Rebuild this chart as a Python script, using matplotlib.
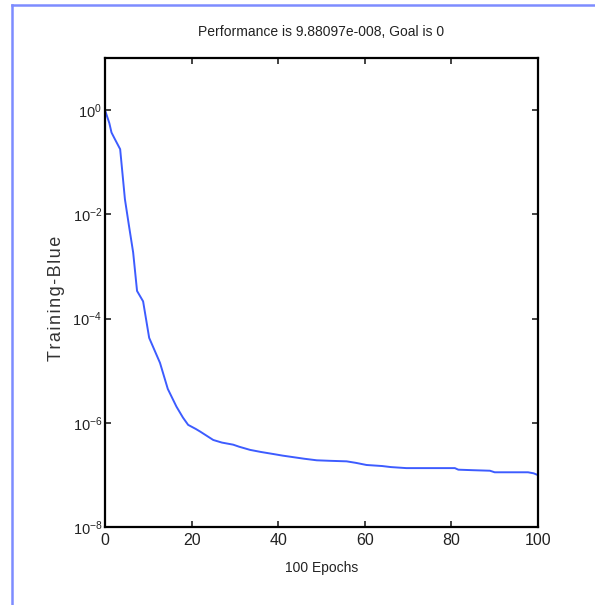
import matplotlib
matplotlib.use('Agg')
import matplotlib.pyplot as plt
from matplotlib.lines import Line2D

plt.rcParams['font.family'] = ['Liberation Sans', 'DejaVu Sans']
plt.rcParams['mathtext.fontset'] = 'custom'
plt.rcParams['mathtext.rm'] = 'Liberation Sans'
plt.rcParams['mathtext.default'] = 'regular'

# training record: epoch and log10 of the performance
epochs = [0, 1, 1.5, 2.3, 3.5, 4.6, 5.5, 6.5, 7.4, 8.8, 10.2, 12.7, 14.5, 16.5,
          18, 19.2, 21, 22, 25, 27, 29.6, 31, 33.5, 36, 38.9, 41, 43.5, 46,
          48.9, 52, 55.8, 58, 60.4, 64, 66, 69.6, 75, 80.8, 81.6, 85, 88.9,
          90, 95, 97.7, 99, 100]
log_perf = [0, -0.25, -0.43, -0.56, -0.75, -1.71, -2.2, -2.73, -3.47, -3.67,
            -4.37, -4.85, -5.35, -5.69, -5.9, -6.04, -6.12, -6.17, -6.33,
            -6.38, -6.42, -6.46, -6.52, -6.56, -6.60, -6.63, -6.66, -6.69,
            -6.72, -6.73, -6.74, -6.77, -6.81, -6.83, -6.85, -6.87, -6.87,
            -6.87, -6.90, -6.91, -6.92, -6.95, -6.95, -6.95, -6.97, -7.005]
perf = [10 ** v for v in log_perf]

x_ticks = [0, 20, 40, 60, 80, 100]
y_ticks = [1e-8, 1e-6, 1e-4, 1e-2, 1e0]

fig = plt.figure(figsize=(5.95, 6.05), dpi=100)

# blue frame around the figure
frame_col = '#7d8cff'
fig.add_artist(Line2D([12 / 595, 12 / 595], [0, 1 - 5 / 605],
                      transform=fig.transFigure, color=frame_col, lw=1.8))
fig.add_artist(Line2D([12 / 595, 1], [1 - 5 / 605, 1 - 5 / 605],
                      transform=fig.transFigure, color=frame_col, lw=1.8))

ax = fig.add_axes([105 / 595, 78 / 605, 433 / 595, 469 / 605])
ax.semilogy(epochs, perf, color='#3d5cff', lw=1.4)

ax.set_xlim(0, 100)
ax.set_ylim(1e-8, 1e1)
ax.set_xticks(x_ticks)
ax.set_yticks(y_ticks)
ax.minorticks_off()
ax.tick_params(direction='in', length=4, width=1.2, top=True, right=True,
               labelsize=11.5, pad=4, colors='#222222')
ax.tick_params(axis='y', labelsize=10.5, pad=2)
for s in ax.spines.values():
    s.set_linewidth(1.6)
    s.set_color('black')

ax.set_title('Performance is 9.88097e-008, Goal is 0', fontsize=10, pad=16,
             color='#222222')
ax.set_xlabel('100 Epochs', fontsize=10, labelpad=10, color='#222222')
ax.set_ylabel('\u200a'.join('Training-Blue'), fontsize=13, color='#333333')
ax.yaxis.set_label_coords(-0.093, 0.488)

fig.savefig('out.png', dpi=100)
